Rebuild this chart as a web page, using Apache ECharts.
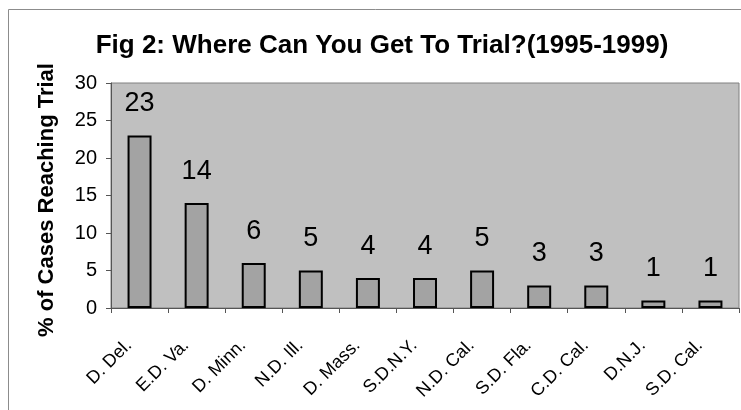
<!DOCTYPE html>
<html>
<head>
<meta charset="utf-8">
<script src="https://cdn.jsdelivr.net/npm/echarts@6/dist/echarts.min.js"></script>
<style>
  html, body { margin: 0; padding: 0; background: #fff; }
  #chart { width: 741px; height: 410px; }
</style>
</head>
<body>
<div id="chart"></div>
<script>
const titleText = 'Fig 2: Where Can You Get To Trial?(1995-1999)'
const yAxisName = '% of Cases Reaching Trial'
const districts = ['D. Del.', 'E.D. Va.', 'D. Minn.', 'N.D. Ill.', 'D. Mass.', 'S.D.N.Y.', 'N.D. Cal.', 'S.D. Fla.', 'C.D. Cal.', 'D.N.J.', 'S.D. Cal.']
const trialPercent = [23, 14, 6, 5, 4, 4, 5, 3, 3, 1, 1]

const font = 'Arial, "Liberation Sans", sans-serif'
const chart = echarts.init(document.getElementById('chart'))

chart.setOption({
  animation: false,
  backgroundColor: '#fff',
  title: {
    text: titleText,
    left: 377,
    textAlign: 'center',
    top: 28,
    textStyle: { fontFamily: font, fontSize: 26, fontWeight: 'bold', color: '#000' }
  },
  graphic: [
    {
      type: 'rect',
      shape: { x: 8.5, y: 9.5, width: 800, height: 500 },
      style: { fill: 'none', stroke: '#8c8c8c', lineWidth: 1 },
      silent: true
    }
  ],
  grid: {
    left: 111, right: 2, top: 83, bottom: 102,
    show: true,
    backgroundColor: '#c0c0c0',
    borderColor: '#808080',
    borderWidth: 1
  },
  xAxis: {
    type: 'category',
    data: districts,
    boundaryGap: true,
    axisLine: { lineStyle: { color: '#555', width: 1 } },
    axisTick: { show: true, length: 5, lineStyle: { color: '#555' } },
    axisLabel: {
      rotate: 45,
      interval: 0,
      margin: 24,
      padding: [0, 15, 0, 0],
      fontFamily: font,
      fontSize: 18,
      color: '#000'
    }
  },
  yAxis: {
    type: 'value',
    min: 0,
    max: 30,
    interval: 5,
    name: yAxisName,
    nameLocation: 'middle',
    nameGap: 53,
    nameTextStyle: {
      fontFamily: font, fontSize: 22, fontWeight: 'bold', color: '#000',
      padding: [0, 9, 0, 0]
    },
    axisLine: { show: true, lineStyle: { color: '#555', width: 1 } },
    axisTick: { show: true, length: 5, lineStyle: { color: '#555' } },
    splitLine: { show: false },
    axisLabel: { margin: 14, fontFamily: font, fontSize: 20, color: '#000' }
  },
  series: [
    {
      type: 'bar',
      data: trialPercent,
      barWidth: '42%',
      itemStyle: { color: '#a3a3a3', borderColor: '#000', borderWidth: 2 },
      label: {
        show: true,
        position: 'top',
        distance: 18,
        fontFamily: font,
        fontSize: 27,
        color: '#000'
      }
    }
  ]
})
</script>
</body>
</html>
